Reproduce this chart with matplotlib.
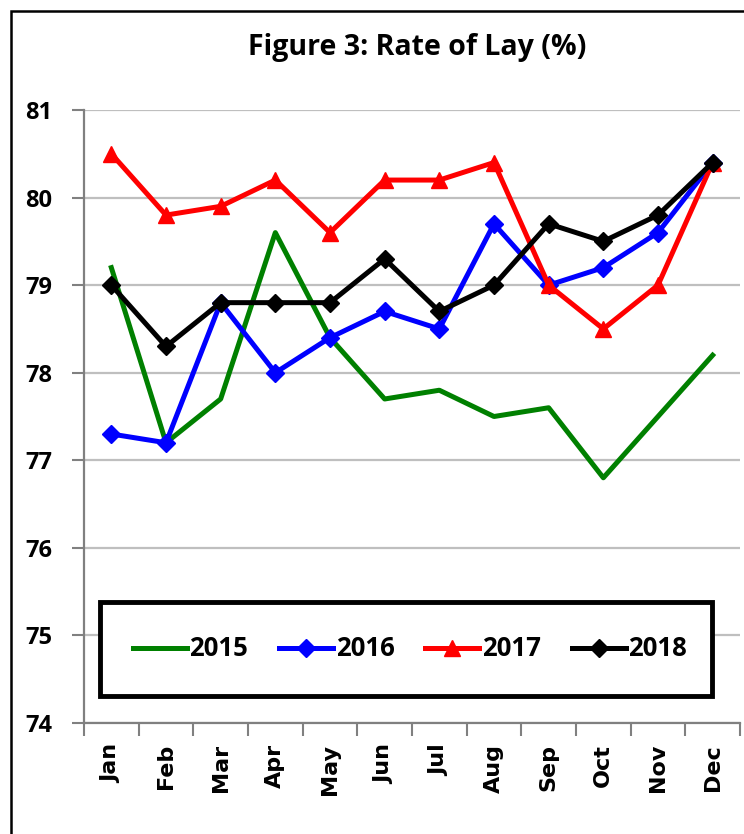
import matplotlib
matplotlib.use("Agg")
import matplotlib.pyplot as plt
from matplotlib.patches import Rectangle

months = ["Jan", "Feb", "Mar", "Apr", "May", "Jun",
          "Jul", "Aug", "Sep", "Oct", "Nov", "Dec"]

rate_2015 = [79.2, 77.2, 77.7, 79.6, 78.4, 77.7, 77.8, 77.5, 77.6, 76.8, 77.5, 78.2]
rate_2016 = [77.3, 77.2, 78.8, 78.0, 78.4, 78.7, 78.5, 79.7, 79.0, 79.2, 79.6, 80.4]
rate_2017 = [80.5, 79.8, 79.9, 80.2, 79.6, 80.2, 80.2, 80.4, 79.0, 78.5, 79.0, 80.4]
rate_2018 = [79.0, 78.3, 78.8, 78.8, 78.8, 79.3, 78.7, 79.0, 79.7, 79.5, 79.8, 80.4]

y_ticks = [74, 75, 76, 77, 78, 79, 80, 81]

narrow = ["Open Sans", "DejaVu Sans"]

fig = plt.figure(figsize=(7.44, 8.34), dpi=100)
ax = fig.add_axes([84 / 744, 1 - 723 / 834, 656 / 744, 613 / 834])

# outer frame of the figure (right/bottom edges lie outside the image)
fig.patches.append(Rectangle((10.5 / 744, -0.1), 1.2, 1 - 10.5 / 834 + 0.1,
                             transform=fig.transFigure, fill=False,
                             edgecolor="black", linewidth=1.8))

x = list(range(len(months)))
ax.plot(x, rate_2015, color="#008000", lw=3.6, label="2015", zorder=3)
ax.plot(x, rate_2016, color="#0000ff", lw=3.6, marker="D", ms=9, label="2016", zorder=3)
ax.plot(x, rate_2017, color="#ff0000", lw=3.6, marker="^", ms=11, label="2017", zorder=3)
ax.plot(x, rate_2018, color="black", lw=3.6, marker="D", ms=9, label="2018", zorder=4)

ax.set_xlim(-0.5, len(months) - 0.5)
ax.set_ylim(74, 81)
ax.set_yticks(y_ticks)
ax.set_yticklabels([str(v) for v in y_ticks], fontsize=17, fontweight="bold",
                   family=narrow)
ax.yaxis.grid(True, color="#bfbfbf", lw=1.6)
ax.set_axisbelow(True)

ax.set_xticks(x)
ax.set_xticklabels(months, rotation=90, fontsize=16, fontweight="bold")
ax.set_xticks([i - 0.5 for i in range(len(months) + 1)], minor=True)
ax.tick_params(axis="x", which="major", length=0, pad=15)
ax.tick_params(axis="x", which="minor", length=9, width=1.5, color="#808080")
ax.tick_params(axis="y", length=9, width=1.5, color="#808080", pad=14)

for s in ["top", "right"]:
    ax.spines[s].set_visible(False)
for s in ["left", "bottom"]:
    ax.spines[s].set_color("#808080")
    ax.spines[s].set_linewidth(1.6)

# legend box
ax.add_patch(Rectangle((16 / 656, 27 / 613), 612 / 656, 94 / 613,
                       transform=ax.transAxes, facecolor="white",
                       edgecolor="black", linewidth=3.5, zorder=5))
leg = ax.legend(loc="center", bbox_to_anchor=(326 / 656, 74 / 613),
                ncol=4, frameon=False, handlelength=2.1, handletextpad=0.1,
                columnspacing=1.2, prop={"family": narrow, "weight": "bold",
                                         "size": 18.5})
leg.set_zorder(6)

fig.text(417 / 744, 1 - 48 / 834, "Figure 3: Rate of Lay (%)", ha="center",
         va="center", fontsize=20.5, fontweight="bold", family=narrow)

fig.savefig("out.png", dpi=100)
